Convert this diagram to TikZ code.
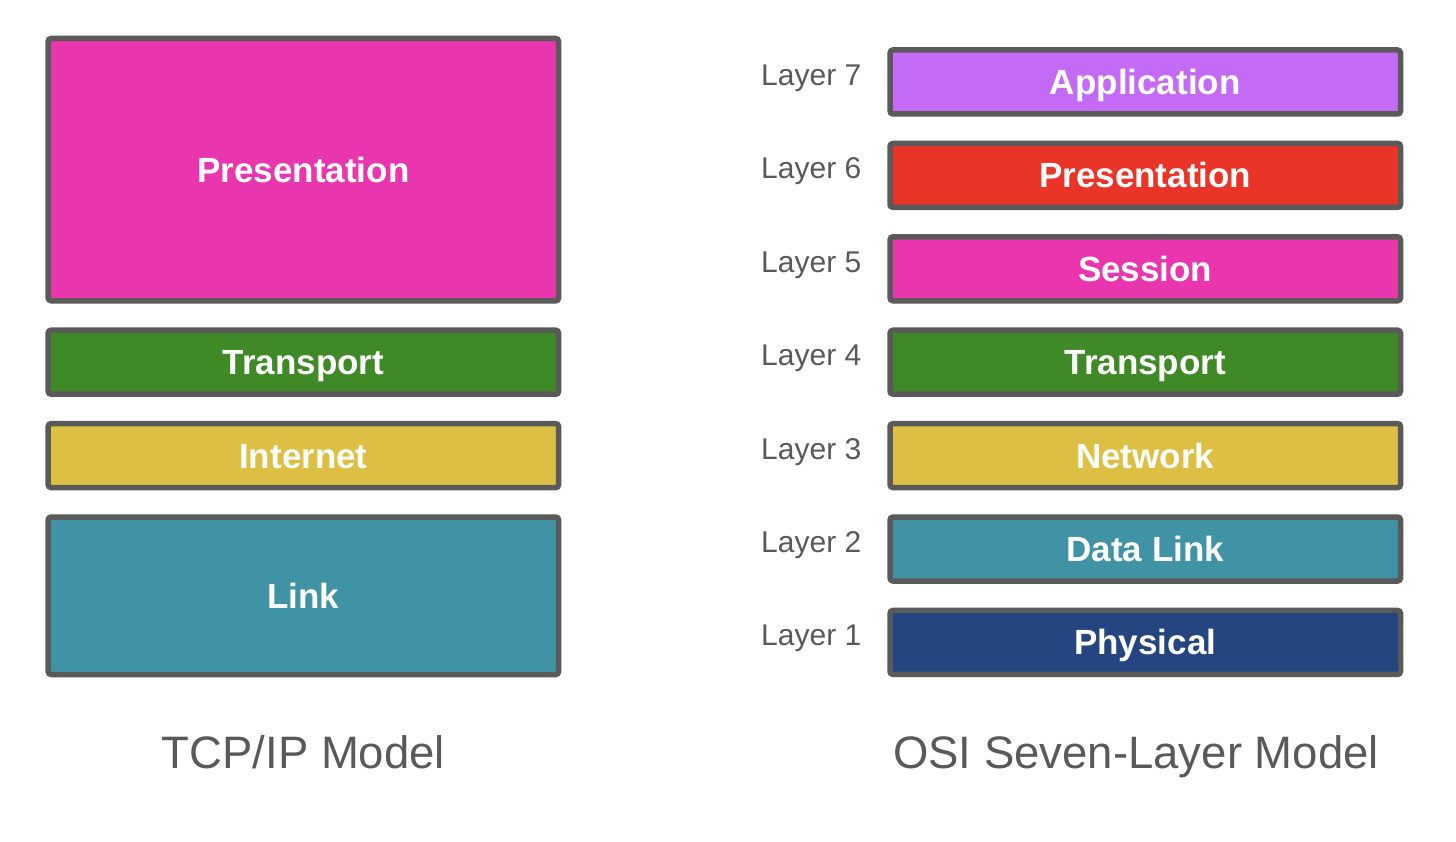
\documentclass[tikz,border=0pt]{standalone}
\usepackage{fontspec}
\setmainfont{Liberation Sans}
\usepackage{xcolor}
\usepackage{tikz}
\usetikzlibrary{shadows, positioning}

\definecolor{edge}{HTML}{5A5A5A}
\definecolor{ink}{HTML}{595959}
\definecolor{appl}{HTML}{C36AF6}
\definecolor{pres}{HTML}{EB3428}
\definecolor{sess}{HTML}{E936AE}
\definecolor{trans}{HTML}{3F8A27}
\definecolor{netw}{HTML}{DCBF43}
\definecolor{link}{HTML}{3F93A5}
\definecolor{phys}{HTML}{254581}

\begin{document}
\begin{tikzpicture}[x = 1pt, y = -1pt,
    layer/.style = {draw = edge, line width = 5.5pt, rounded corners = 3pt,
        minimum width = 510.5pt, minimum height = 64pt, inner sep = 0pt,
        text = white, text height = 25pt, text depth = 0pt,
        font = \fontsize{35}{40}\selectfont\bfseries,
        drop shadow = {shadow xshift = 1.5pt, shadow yshift = -2.5pt, opacity = 0.18}},
    tag/.style = {anchor = base east, inner sep = 0pt, text = ink,
        font = \fontsize{30}{34}\selectfont},
    title/.style = {anchor = base, inner sep = 0pt, text = ink,
        font = \fontsize{45.5}{52}\selectfont}]
    \useasboundingbox (0, 0) rectangle (1456, 842);
    % TCP/IP stack
    \node[layer, fill = sess, minimum height = 262.3pt] (tpres) at (303.4, 169.65) {Presentation};
    \node[layer, fill = trans] (ttrans) at (303.4, 362.2) {Transport};
    \node[layer, fill = netw] (tnet) at (303.4, 455.6) {Internet};
    \node[layer, fill = link, minimum height = 157.5pt] (tlink) at (303.4, 595.75) {Link};
    \node[title] (ttitle) at (303.4, 768) {TCP/IP Model};
    % OSI stack
    \node[layer, fill = appl] (oapp) at (1145.25, 82) {Application};
    \node[layer, fill = pres] (opres) at (1145.25, 175.4) {Presentation};
    \node[layer, fill = sess] (osess) at (1145.25, 268.8) {Session};
    \node[layer, fill = trans] (otrans) at (1145.25, 362.2) {Transport};
    \node[layer, fill = netw] (onet) at (1145.25, 455.6) {Network};
    \node[layer, fill = link] (olink) at (1145.25, 549) {Data Link};
    \node[layer, fill = phys] (ophys) at (1145.25, 642.4) {Physical};
    \node[title] (otitle) at (1136, 768) {OSI Seven-Layer Model};
    % layer numbers
    \node[tag] (l7) at (861.5, 85.5) {Layer 7};
    \node[tag] (l6) at (861.5, 178.9) {Layer 6};
    \node[tag] (l5) at (861.5, 272.3) {Layer 5};
    \node[tag] (l4) at (861.5, 365.7) {Layer 4};
    \node[tag] (l3) at (861.5, 459.1) {Layer 3};
    \node[tag] (l2) at (861.5, 552.5) {Layer 2};
    \node[tag] (l1) at (861.5, 645.9) {Layer 1};
\end{tikzpicture}
\end{document}
